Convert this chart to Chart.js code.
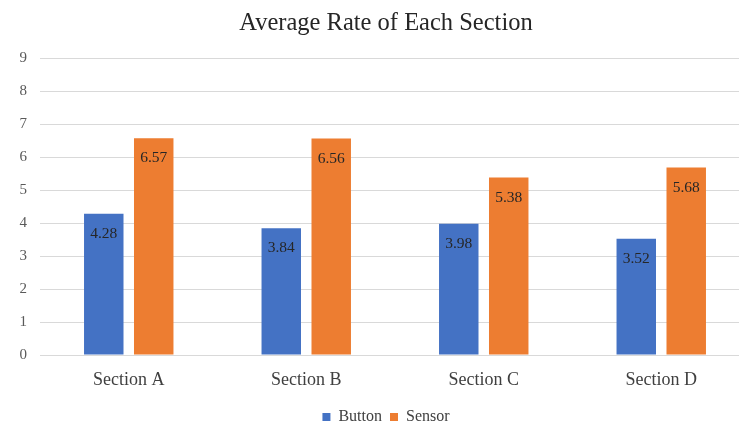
<!DOCTYPE html>
<html>
<head>
<meta charset="utf-8">
<script src="https://cdn.jsdelivr.net/npm/chart.js@4"></script>
<style>
  html, body { margin: 0; padding: 0; background: #fff; overflow: hidden; }
  #wrap { width: 739px; height: 428px; overflow: hidden; }
</style>
</head>
<body>
<div id="wrap"><canvas id="chart" width="778" height="435"></canvas></div>
<script>
const categories = ['Section A', 'Section B', 'Section C', 'Section D'];
const buttonValues = [4.28, 3.84, 3.98, 3.52];
const sensorValues = [6.57, 6.56, 5.38, 5.68];
const yTicks = [0, 1, 2, 3, 4, 5, 6, 7, 8, 9];

const SERIF = '"Liberation Serif", "Times New Roman", serif';

// Writes each bar's value just inside its top edge
const barValueLabels = {
  id: 'barValueLabels',
  afterDatasetsDraw(chart) {
    const ctx = chart.ctx;
    ctx.save();
    ctx.font = '15.5px ' + SERIF;
    ctx.fillStyle = '#262626';
    ctx.textAlign = 'center';
    ctx.textBaseline = 'middle';
    chart.data.datasets.forEach((ds, di) => {
      const meta = chart.getDatasetMeta(di);
      meta.data.forEach((bar, i) => {
        ctx.fillText(ds.data[i].toFixed(2), bar.x, bar.y + 20);
      });
    });
    ctx.restore();
  }
};

new Chart(document.getElementById('chart'), {
  type: 'bar',
  data: {
    labels: categories,
    datasets: [
      { label: 'Button', data: buttonValues, backgroundColor: '#4472C4',
        categoryPercentage: 0.563, barPercentage: 0.79 },
      { label: 'Sensor', data: sensorValues, backgroundColor: '#ED7D31',
        categoryPercentage: 0.563, barPercentage: 0.79 }
    ]
  },
  options: {
    responsive: false,
    animation: false,
    layout: { padding: { left: 0, right: 6, top: 0, bottom: 0 } },
    plugins: {
      title: {
        display: true,
        text: 'Average Rate of Each Section',
        color: '#262626',
        font: { family: SERIF, size: 24.5, weight: 'normal' },
        padding: { top: 9, bottom: 19.6 }
      },
      legend: {
        position: 'bottom',
        labels: {
          color: '#404040',
          font: { family: SERIF, size: 16 },
          boxWidth: 8,
          boxHeight: 8,
          padding: 8
        }
      },
      tooltip: { enabled: false }
    },
    scales: {
      x: {
        grid: { display: false, drawTicks: false },
        border: { display: true, color: '#d9d9d9', width: 1 },
        ticks: { color: '#404040', font: { family: SERIF, size: 18 }, padding: 14 },
        afterFit: (s) => { s.height = 46; }
      },
      y: {
        min: 0,
        max: 9,
        afterBuildTicks: (s) => { s.ticks = yTicks.map(v => ({ value: v })); },
        afterFit: (s) => { s.width = 40; },
        grid: { color: '#d9d9d9', drawTicks: false },
        border: { display: false },
        ticks: { color: '#595959', font: { family: SERIF, size: 15 }, padding: 13 }
      },
      // empty margin on the right so the last category runs to the edge
      yRight: {
        type: 'linear',
        position: 'right',
        grid: { display: false, drawTicks: false },
        border: { display: false },
        ticks: { display: false },
        afterFit: (s) => { s.width = 22; }
      }
    }
  },
  plugins: [barValueLabels]
});
</script>
</body>
</html>
